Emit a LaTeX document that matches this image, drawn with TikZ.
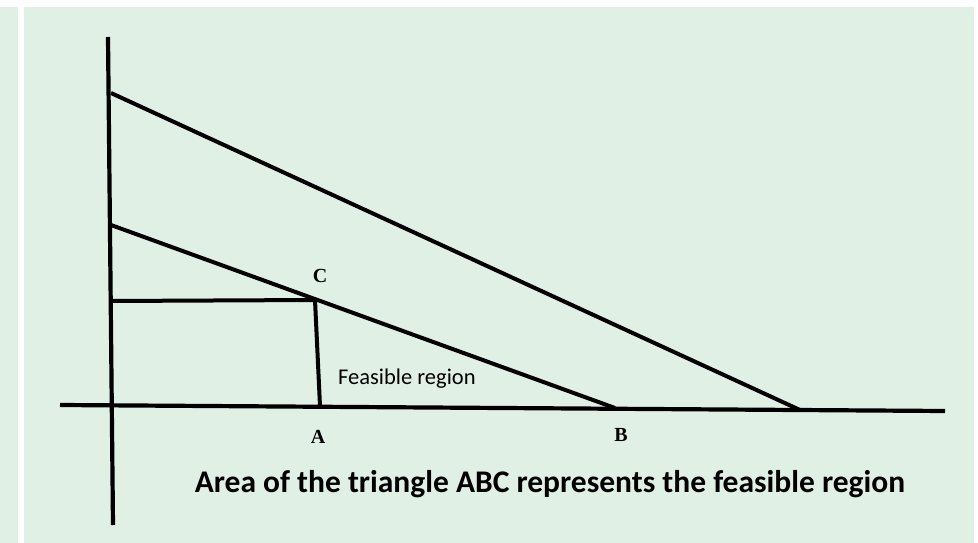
\documentclass[tikz,border=0pt]{standalone}
\usepackage{fontspec}
\setmainfont{Liberation Serif}
\setsansfont{Carlito}
\usepackage{tikz}
\usetikzlibrary{positioning}
\definecolor{panelgreen}{HTML}{E1F0E5}

\begin{document}
\begin{tikzpicture}[x=1pt, y=-1pt,
  axis/.style={line width=4.2pt},
  bound/.style={line width=4pt},
  pt/.style={font=\fontsize{20}{20}\selectfont\bfseries, inner sep=0pt},
  note/.style={font=\sffamily\fontsize{22.5}{22.5}\selectfont, inner sep=0pt}]
  % page and panels
  \useasboundingbox (0,0) rectangle (978,543);
  \fill[white] (0,0) rectangle (978,543);
  \fill[panelgreen] (0,7) rectangle (18,543);
  \fill[panelgreen] (24,7) rectangle (974,543);
  % axes
  \coordinate (ytop) at (108,37);
  \coordinate (ybot) at (113,525);
  \coordinate (xleft) at (60,405);
  \coordinate (xright) at (945,411);
  \draw[axis] (ytop) -- (ybot);
  \draw[axis] (xleft) -- (xright);
  % constraint lines
  \coordinate (outtop) at (111,93);
  \coordinate (outend) at (800,410);
  \coordinate (intop) at (111,225);
  \coordinate (B) at (615,408);
  \coordinate (cleft) at (111,301);
  \coordinate (C) at (315,300);
  \coordinate (A) at (320,406);
  \draw[bound] (outtop) -- (outend);
  \draw[bound] (intop) -- (B);
  \draw[bound] (cleft) -- (C) -- (A);
  % labels
  \node[pt] (labC) at (320,276) {C};
  \node[pt] (labA) at (318,437) {A};
  \node[pt] (labB) at (621,435) {B};
  \node[note, anchor=west] (region) at (338,379) {Feasible region};
  \node[font=\sffamily\bfseries\fontsize{31.5}{31.5}\selectfont, inner sep=0pt]
    (caption) at (550,484) {Area of the triangle ABC represents the feasible region};
\end{tikzpicture}
\end{document}
